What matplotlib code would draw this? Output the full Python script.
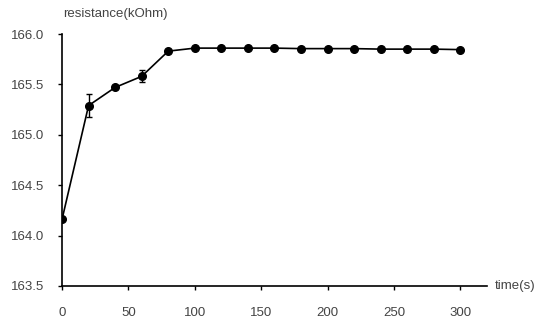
import matplotlib.pyplot as plt

# time (s) and resistance (kOhm)
time_s = [0, 20, 40, 60, 80, 100, 120, 140, 160, 180, 200, 220, 240, 260, 280, 300]
resistance = [164.16, 165.29, 165.47, 165.58, 165.83, 165.86, 165.86, 165.86, 165.86,
              165.855, 165.855, 165.855, 165.85, 165.85, 165.85, 165.845]
err = [0, 0.11, 0, 0.06, 0, 0, 0, 0, 0, 0, 0, 0, 0, 0, 0, 0]

xticks = [0, 50, 100, 150, 200, 250, 300]
yticks = [163.5, 164.0, 164.5, 165.0, 165.5, 166.0]

plt.rcParams['font.family'] = ['Liberation Sans', 'DejaVu Sans']

fig = plt.figure(figsize=(5.42, 3.26), dpi=100)
ax = fig.add_axes([0.1144, 0.1227, 0.7841, 0.773])

ax.errorbar(time_s, resistance, yerr=err, color='black', marker='o', markersize=5.5,
            linewidth=1.2, capsize=2.5, elinewidth=1, capthick=1)

ax.set_xlim(0, 320)
ax.set_ylim(163.5, 166.0)
ax.set_xticks(xticks)
ax.set_yticks(yticks)
ax.set_yticklabels([f'{v:.1f}' for v in yticks])

for side in ['top', 'right']:
    ax.spines[side].set_visible(False)
for side in ['left', 'bottom']:
    ax.spines[side].set_linewidth(1.2)

ax.tick_params(direction='out', length=3, width=1, labelsize=9.5, labelcolor='#444444', pad=12)
ax.tick_params(axis='y', pad=10)

fig.text(0.117, 0.958, 'resistance(kOhm)', fontsize=9.5, color='#444444', ha='left', va='center')
fig.text(0.913, 0.122, 'time(s)', fontsize=9.5, color='#444444', ha='left', va='center')

fig.savefig('out.png', dpi=100)
